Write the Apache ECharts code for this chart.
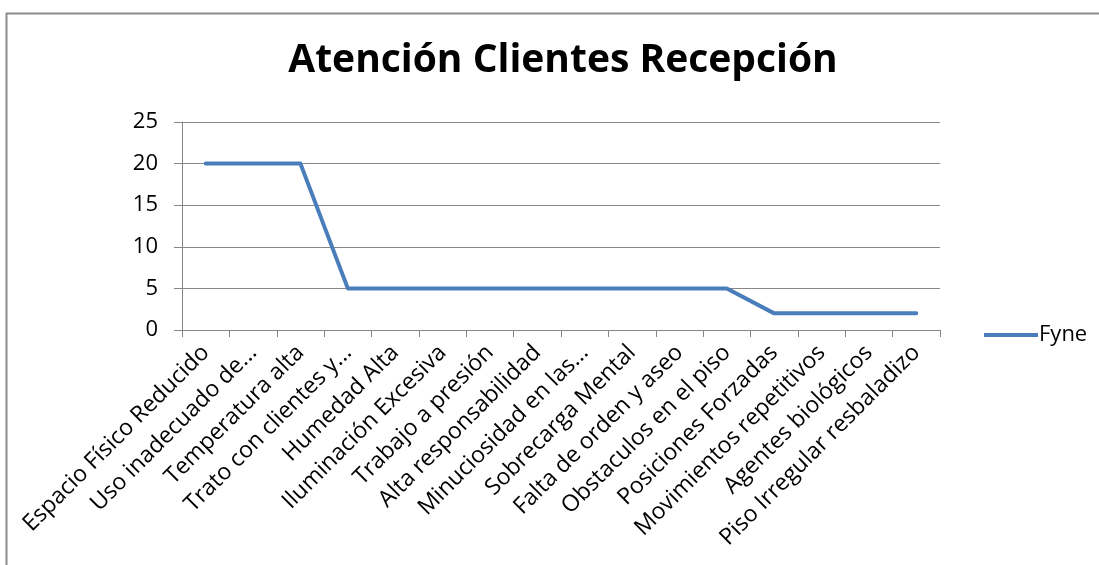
<!DOCTYPE html>
<html>
<head>
<meta charset="utf-8">
<script src="https://cdn.jsdelivr.net/npm/echarts@6/dist/echarts.min.js"></script>
<style>
  html, body { margin: 0; padding: 0; background: #fff; }
  #chart { width: 1099px; height: 565px; }
</style>
</head>
<body>
<div id="chart"></div>
<script>
var dom = document.getElementById("chart");
var chart = echarts.init(dom);

var titleText = 'Atención Clientes Recepción';
var seriesName = 'Fyne';
var categories = [
    'Espacio Físico Reducido',
    'Uso inadecuado de...',
    'Temperatura alta',
    'Trato con clientes y...',
    'Humedad Alta',
    'Iluminación Excesiva',
    'Trabajo a presión',
    'Alta responsabilidad',
    'Minuciosidad en las...',
    'Sobrecarga Mental',
    'Falta de orden y aseo',
    'Obstaculos en el piso',
    'Posiciones Forzadas',
    'Movimientos repetitivos',
    'Agentes biológicos',
    'Piso Irregular resbaladizo'
];
var values = [20, 20, 20, 5, 5, 5, 5, 5, 5, 5, 5, 5, 2, 2, 2, 2];

var fontFam = '"Open Sans", "DejaVu Sans", sans-serif';
var gridColor = '#868686';
var lineColor = '#4a7ebb';

var option = {
    backgroundColor: '#fff',
    animation: false,
    title: {
        text: titleText,
        left: 558,
        textAlign: 'center',
        top: 36,
        textStyle: {
            fontFamily: fontFam,
            fontWeight: 'bold',
            fontSize: 39,
            color: '#000'
        }
    },
    legend: {
        data: [seriesName],
        left: 979,
        top: 319,
        icon: 'rect',
        itemWidth: 54,
        itemHeight: 4,
        itemGap: 4,
        textStyle: {
            fontFamily: fontFam,
            fontSize: 22,
            color: '#000',
            padding: [0, 0, 0, -4]
        }
    },
    grid: {
        left: 182,
        right: 159,
        top: 122,
        bottom: 235,
        containLabel: false
    },
    graphic: [{
        type: 'rect',
        shape: { x: 6.5, y: 13.5, width: 1200, height: 700 },
        style: { fill: 'none', stroke: '#8c8c8c', lineWidth: 2 },
        silent: true
    }],
    xAxis: {
        type: 'category',
        data: categories,
        boundaryGap: true,
        axisLine: { lineStyle: { color: gridColor, width: 1 } },
        axisTick: { show: true, length: 7, lineStyle: { color: gridColor } },
        axisLabel: {
            interval: 0,
            rotate: 45,
            margin: 19,
            fontFamily: fontFam,
            fontSize: 23,
            color: '#000'
        },
        splitLine: { show: false }
    },
    yAxis: {
        type: 'value',
        min: 0,
        max: 25,
        interval: 5,
        axisLine: { show: true, lineStyle: { color: gridColor, width: 1 } },
        axisTick: { show: true, length: 8, lineStyle: { color: gridColor } },
        axisLabel: {
            margin: 24,
            fontFamily: fontFam,
            fontSize: 22,
            color: '#000'
        },
        splitLine: { show: true, lineStyle: { color: gridColor, width: 1 } }
    },
    series: [{
        name: seriesName,
        type: 'line',
        data: values,
        showSymbol: false,
        symbol: 'none',
        itemStyle: { color: lineColor },
        lineStyle: { color: lineColor, width: 4, cap: 'round', join: 'round' }
    }]
};

chart.setOption(option);
</script>
</body>
</html>
